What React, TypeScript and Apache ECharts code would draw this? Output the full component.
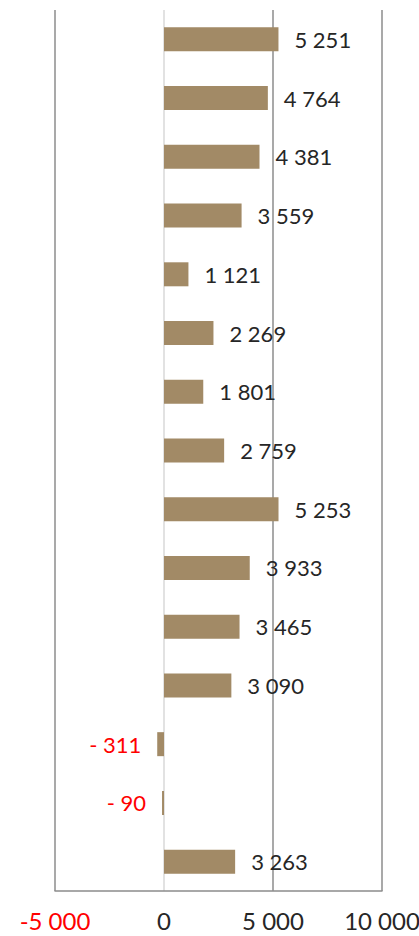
import React, { useEffect, useRef } from "react";
import * as echarts from "echarts";

const categories = ["1", "2", "3", "4", "5", "6", "7", "8", "9", "10", "11", "12", "13", "14", "15"];
const values = [5251, 4764, 4381, 3559, 1121, 2269, 1801, 2759, 5253, 3933, 3465, 3090, -311, -90, 3263];
const xTicks = [-5000, 0, 5000, 10000];

const fmt = (v: number) => {
  const s = Math.abs(v).toString().replace(/\B(?=(\d{3})+(?!\d))/g, " ");
  return s;
};

export default function App() {
  const ref = useRef<HTMLDivElement>(null);
  useEffect(() => {
    if (!ref.current) return;
    const chart = echarts.init(ref.current, undefined, { renderer: "svg" });
    chart.setOption({
      animation: false,
      grid: { left: 55, right: 37, top: 10, bottom: 45, containLabel: false, outerBoundsMode: "none" },
      xAxis: {
        type: "value",
        min: xTicks[0],
        max: xTicks[xTicks.length - 1],
        interval: 5000,
        axisLine: { show: true, lineStyle: { color: "#8c8c8c", width: 1.5 } },
        axisTick: { show: false },
        splitLine: {
          show: true,
          lineStyle: { color: ["#8c8c8c", "#d9d9d9", "#8c8c8c", "#8c8c8c"], width: 1.5 },
        },
        axisLabel: {
          margin: 17,
          fontSize: 24,
          fontFamily: "Lato",
          color: (v: any) => (Number(v) < 0 ? "#FF0000" : "#262626"),
          formatter: (v: number) => (v < 0 ? "-" : "") + fmt(v),
        },
      },
      yAxis: {
        type: "category",
        data: categories,
        inverse: true,
        axisLine: { show: false },
        axisTick: { show: false },
        axisLabel: { show: false },
        splitLine: { show: false },
      },
      series: [
        {
          type: "bar",
          barWidth: 24,
          itemStyle: { color: "#A28A66" },
          data: values.map((v) => ({
            value: v,
            label: {
              show: true,
              position: v < 0 ? "left" : "right",
              distance: 16,
              color: v < 0 ? "#FF0000" : "#262626",
              fontSize: 22,
              fontFamily: "Lato",
              formatter: () => (v < 0 ? "- " : "") + fmt(v),
            },
          })),
        },
      ],
    });
    return () => chart.dispose();
  }, []);
  return <div ref={ref} style={{ width: 419, height: 936, position: "absolute", left: 0, top: 0 }} />;
}
